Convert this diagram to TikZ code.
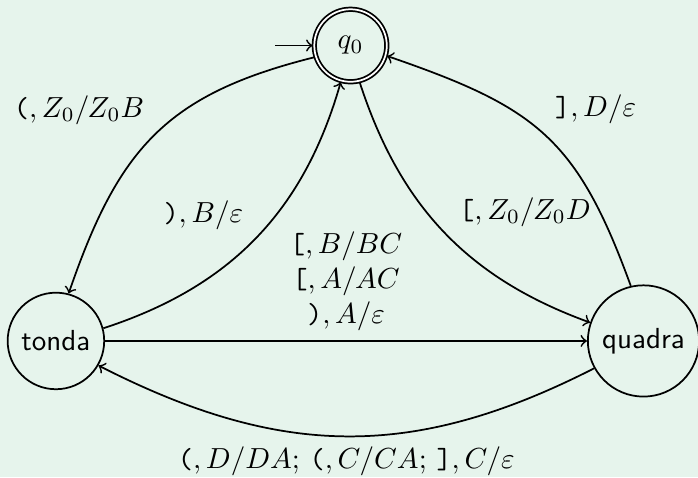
\documentclass[tikz,border=0pt]{standalone}
\usepackage{amsmath, amssymb}
\usetikzlibrary{automata, positioning}
\definecolor{slidegreen}{RGB}{230,244,236}

\begin{document}
\begin{tikzpicture}[
  >=to, node distance=3.57cm, on grid, semithick,
  every state/.style={draw, minimum size=2.5em, font=\sffamily},
  initial text={},
  arr/.style={->}]
  \useasboundingbox[fill=slidegreen] (-120.86pt,15.69pt) rectangle (119.8pt,-148.8pt);
  \node[state,initial,accepting](q0){$q_0$};
  \node[state,below left=3.58cm and 3.57cm of q0](tonda){tonda};
  \node[state,below right=3.58cm and 3.55cm of q0](quadra){quadra};
  \draw[arr](q0.198) to[out=194,in=71,looseness=1.15]
    node[pos=0.5,above left]{$\texttt{(},Z_0/Z_0B$} (tonda.75);
  \draw[arr](tonda.15) to[out=18,in=254]
    node[pos=0.49,above left]{$\texttt{)},B/\varepsilon$} (q0.255);
  \draw[arr](q0.284) to[out=288,in=160]
    node[pos=0.52,above right]{$\texttt{[},Z_0/Z_0D$} (quadra.161);
  \draw[arr](quadra.103) to[out=110,in=341,looseness=1.2]
    node[pos=0.5,above right]{$\texttt{]},D/\varepsilon$} (q0.344);
  \draw[arr](tonda) -- node[above,align=center]
    {$\texttt{[},B/BC$\\$\texttt{[},A/AC$\\$\texttt{)},A/\varepsilon$} (quadra);
  \draw[arr](quadra.209) to[out=207,in=333,looseness=1.05]
    node[below]{$\texttt{(},D/DA$; $\texttt{(},C/CA$; $\texttt{]},C/\varepsilon$} (tonda.330);
\end{tikzpicture}
\end{document}
